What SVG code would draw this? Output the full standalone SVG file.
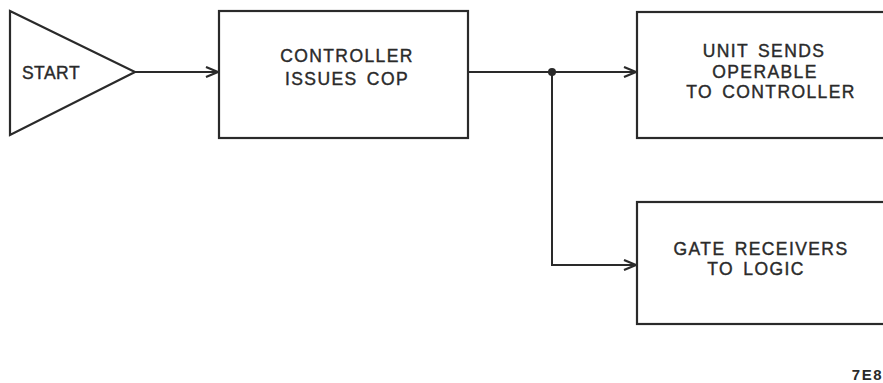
<svg xmlns="http://www.w3.org/2000/svg" width="883" height="383" viewBox="0 0 883 383">
<style>
.s{fill:none;stroke:#2a2a2a;stroke-width:2.2;stroke-linejoin:miter}
.t{font-family:"Liberation Sans",Arial,sans-serif;font-size:17.5px;fill:#2a2a2a;stroke:#2a2a2a;stroke-width:0.4;letter-spacing:1.4px;word-spacing:3px;text-anchor:middle}
.c{stroke:#2a2a2a;stroke-width:2;fill:none}
</style>
<defs>
<marker id="a" markerWidth="14" markerHeight="12" viewBox="0 0 14 12" refX="13" refY="6" orient="auto" markerUnits="userSpaceOnUse">
<path d="M1,1 L13,6 L1,11" fill="none" stroke="#2a2a2a" stroke-width="2.2"/>
</marker>
</defs>
<rect width="883" height="383" fill="#fff"/>
<g id="start">
<polygon class="s" points="10,11 135,72 10,135"/>
<text class="t" x="51" y="79" style="letter-spacing:0.5px">START</text>
</g>
<g id="controller">
<rect class="s" x="219" y="11" width="249" height="127"/>
<text class="t" x="347" y="62">CONTROLLER</text>
<text class="t" x="347" y="85">ISSUES COP</text>
</g>
<g id="unit">
<rect class="s" x="637" y="12" width="260" height="126"/>
<text class="t" x="764" y="57">UNIT SENDS</text>
<text class="t" x="765" y="78">OPERABLE</text>
<text class="t" x="771" y="98">TO CONTROLLER</text>
</g>
<g id="gate">
<rect class="s" x="637" y="202" width="260" height="122"/>
<text class="t" x="761" y="255">GATE RECEIVERS</text>
<text class="t" x="756" y="275">TO LOGIC</text>
</g>
<g id="connectors">
<line class="c" x1="135" y1="72" x2="218" y2="72" marker-end="url(#a)"/>
<line class="c" x1="468" y1="72" x2="636" y2="72" marker-end="url(#a)"/>
<polyline class="c" points="552,72 552,265 636,265" marker-end="url(#a)"/>
<circle cx="552" cy="72" r="4" fill="#2a2a2a"/>
</g>
<text x="883" y="380" style="font-family:'Liberation Sans',Arial,sans-serif;font-size:15px;font-weight:bold;fill:#2a2a2a;letter-spacing:1.5px;text-anchor:end">7E8</text>
</svg>
